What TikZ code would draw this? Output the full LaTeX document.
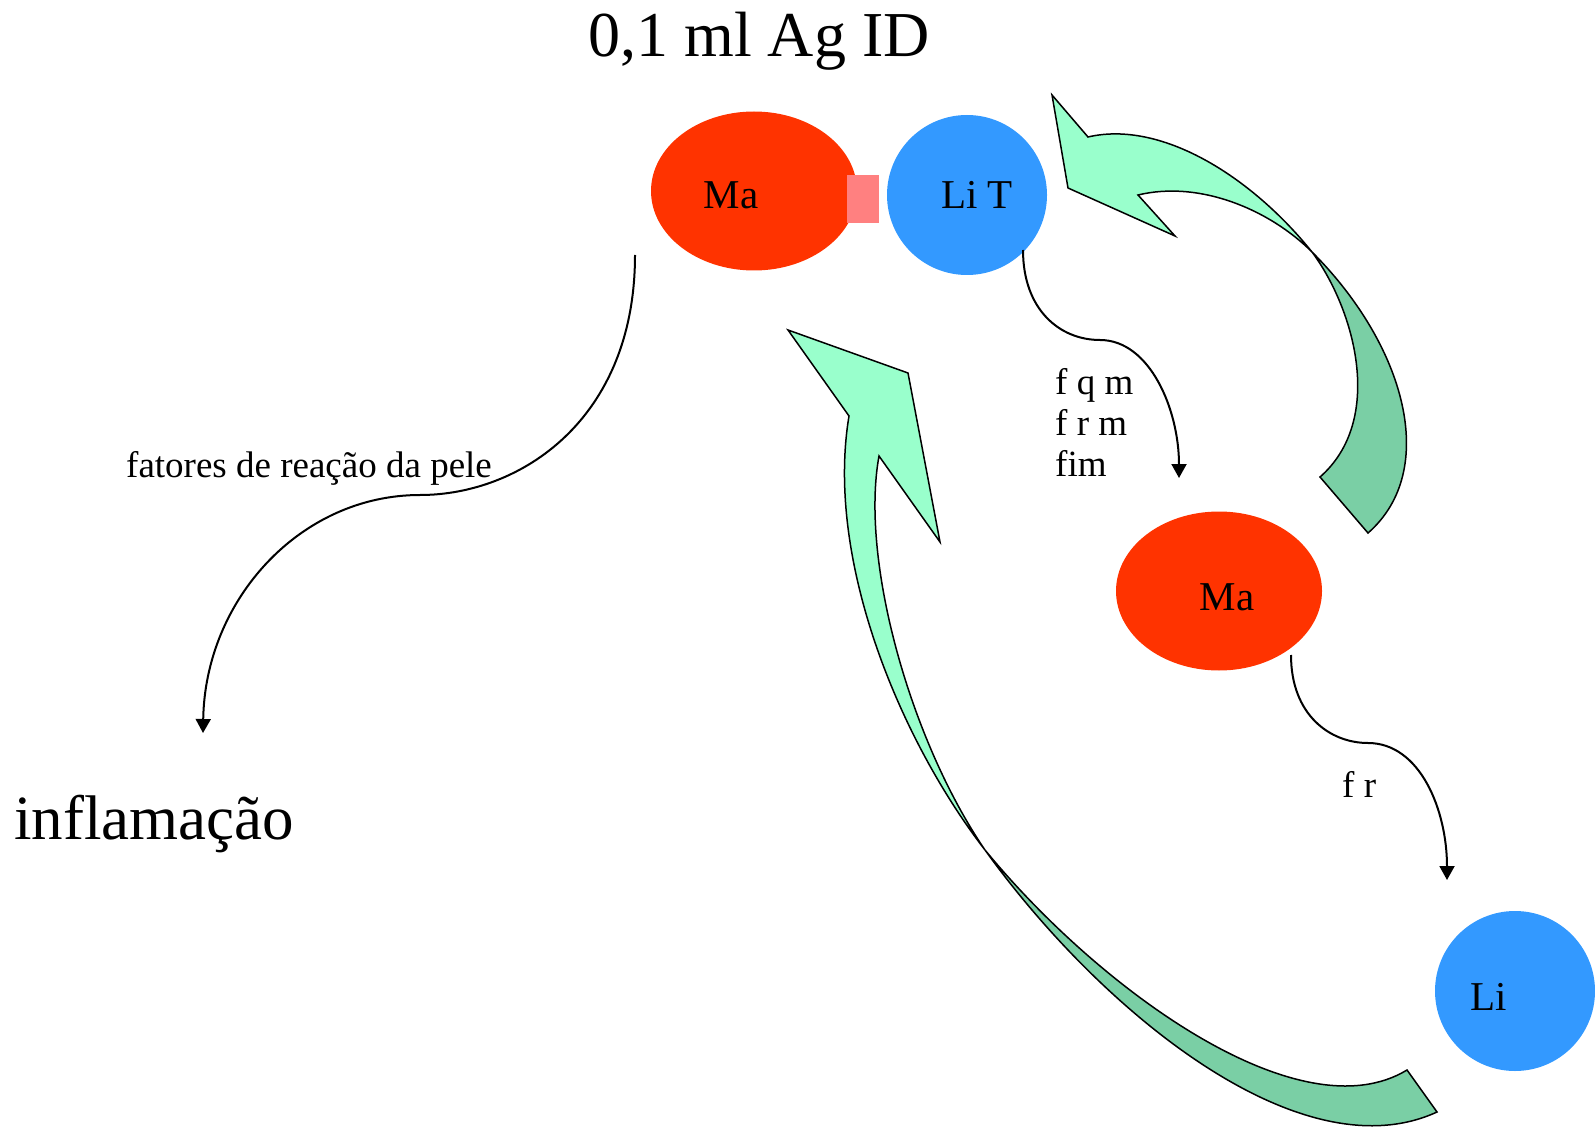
\documentclass[tikz,border=0pt]{standalone}
\usepackage{fontspec}
\setmainfont{Liberation Serif}
\usetikzlibrary{shapes.geometric,arrows.meta}
\definecolor{maRed}{HTML}{FF3300}
\definecolor{liBlue}{HTML}{3399FF}
\definecolor{bindPink}{HTML}{FF8080}
\definecolor{bandLight}{HTML}{99FFCC}
\definecolor{bandDark}{HTML}{7ACFA5}
\tikzset{
  cellMa/.style={ellipse,fill=maRed,inner sep=0pt,minimum width=206pt,minimum height=159pt},
  cellLi/.style={circle,fill=liBlue,inner sep=0pt,minimum size=160pt},
  cellTxt/.style={anchor=base,inner sep=0pt,font=\fontsize{41}{45}\selectfont},
  smallTxt/.style={anchor=base west,inner sep=0pt,font=\fontsize{37}{40}\selectfont},
  bigTxt/.style={anchor=base,inner sep=0pt,font=\fontsize{63}{68}\selectfont},
  flow/.style={line width=2pt,-{Triangle[length=14pt,width=15pt]}},
  band/.style={draw=black,line width=1.5pt,line join=miter}
}
\begin{document}
\begin{tikzpicture}[x=1pt,y=-1pt]
\useasboundingbox (0,0) rectangle (1595,1131);

	% cells
	\node[cellMa] (Ma) at (754,191) {};
	\node[fill=bindPink,inner sep=0pt,minimum width=32pt,minimum height=48pt] (R) at (863,199) {};
	\node[cellLi] (LiT) at (967,195) {};
	\node[cellMa] (Ma') at (1219,591) {};
	\node[cellLi] (Li) at (1515,991) {};

	\node[cellTxt] (MaT) at (731,209) {Ma};
	\node[cellTxt] (LiTT) at (977,209) {Li T};
	\node[cellTxt] (Ma'T) at (1227,610) {Ma};
	\node[cellTxt] (LiT') at (1489,1010) {Li};

	% texts
	\node[bigTxt,font=\fontsize{64}{70}\selectfont] (title) at (759,57) {0,1 ml Ag ID};
	\node[bigTxt] (infl) at (154,839) {inflamação};
	\node[smallTxt] (pele) at (126,477) {fatores de reação da pele};
	\node[smallTxt] (fqm) at (1055,395) {f q m};
	\node[smallTxt] (frm) at (1055,435) {f r m};
	\node[smallTxt] (fim) at (1055,476) {fim};
	\node[smallTxt] (fr) at (1342,797) {f r};

	% thin arrows
	\coordinate (s1) at (635,255);
	\coordinate (e1) at (203,733);
	\coordinate (s2) at (1023,250);
	\coordinate (e2) at (1179,478);
	\coordinate (s3) at (1291,655);
	\coordinate (e3) at (1447,880);
	\draw[flow] (s1) .. controls (635,420) and (520,495) .. (420,495) .. controls (300,495) and (205,600) .. (e1);
	\draw[flow] (s2) .. controls (1023,310) and (1060,340) .. (1100,340) .. controls (1150,340) and (1179,410) .. (e2);
	\draw[flow] (s3) .. controls (1291,715) and (1330,743) .. (1368,743) .. controls (1420,743) and (1447,810) .. (e3);

	% band arrow to LiT
	\coordinate (xa) at (1312,252);
	\filldraw[band,fill=bandDark] (xa) .. controls (1405,345) and (1440,470) .. (1368,533) -- (1320,477) .. controls (1385,420) and (1355,310) .. (xa) -- cycle;
	\filldraw[band,fill=bandLight] (xa) .. controls (1250,175) and (1160,120) .. (1088,137) -- (1052,95) -- (1068,188) -- (1175,236) -- (1138,195) .. controls (1200,180) and (1270,210) .. (xa) -- cycle;

	% band arrow to Ma
	\coordinate (xb) at (985,850);
	\filldraw[band,fill=bandDark] (xb) .. controls (1100,1010) and (1300,1175) .. (1437,1112) -- (1407,1070) .. controls (1300,1135) and (1100,990) .. (xb) -- cycle;
	\filldraw[band,fill=bandLight] (xb) .. controls (900,740) and (825,560) .. (849,416) -- (788,330) -- (908,373) -- (940,542) -- (879,456) .. controls (860,560) and (910,740) .. (xb) -- cycle;
\end{tikzpicture}
\end{document}
